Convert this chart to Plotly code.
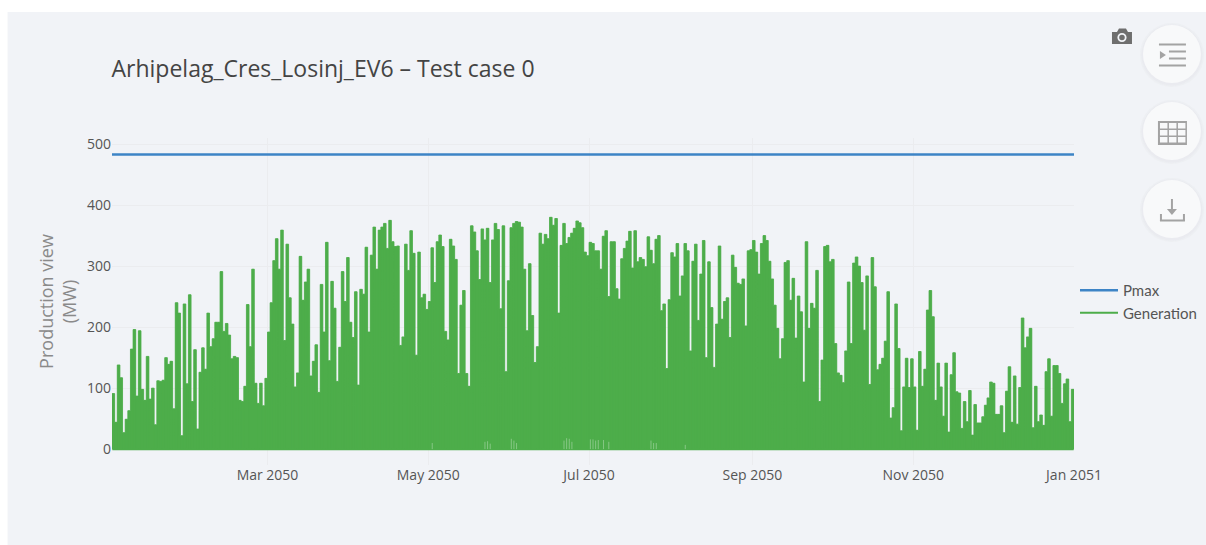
import pandas as pd
import plotly.graph_objects as go

TITLE = "Arhipelag_Cres_Losinj_EV6 – Test case 0"
START_DATE = "2050-01-01"
END_DATE = "2051-01-01"
PMAX = 483
TICK_DATES = ["2050-03-01", "2050-05-01", "2050-07-01", "2050-09-01", "2050-11-01", "2051-01-01"]
TICK_LABELS = ["Mar 2050", "May 2050", "Jul 2050", "Sep 2050", "Nov 2050", "Jan 2051"]

# Daily peak of generation (MW), Jan 1 onward
daily_peak = [
91,44,138,117,27,49,63,164,196,87,194,98,80,152,82,100,40,112,111,113,
150,139,144,66,240,223,22,238,107,253,78,163,33,126,166,131,223,168,181,208,
208,291,193,206,187,148,152,150,80,78,103,237,168,295,108,75,108,71,116,192,
240,309,345,295,359,178,336,248,205,102,125,316,244,274,295,120,144,171,93,270,
192,339,145,275,231,111,167,291,242,314,208,183,258,105,262,254,331,192,318,364,
295,359,364,370,329,375,340,332,333,170,184,336,293,358,321,154,323,248,254,229,
242,330,273,340,351,332,193,179,344,333,311,124,236,260,124,103,366,356,325,278,
361,343,362,273,343,370,360,230,366,127,276,363,370,373,372,364,295,194,304,219,
142,168,354,336,352,345,380,367,378,223,334,370,337,347,354,362,374,371,363,323,
317,339,337,325,325,295,349,358,250,340,340,263,246,312,329,341,357,297,358,307,
314,311,299,348,326,304,344,350,227,238,132,245,322,315,337,251,284,337,325,161,
308,336,211,287,342,150,307,232,134,205,333,213,242,248,183,318,298,272,270,279,
202,325,327,342,323,287,337,350,342,308,279,236,198,148,181,306,309,244,280,182,
251,225,110,340,198,239,231,293,78,146,332,334,307,311,173,125,121,109,161,274,
173,305,315,300,273,195,284,106,314,266,130,139,149,177,258,51,68,238,165,30,
102,149,101,148,102,31,160,103,131,228,260,217,80,141,102,54,141,28,122,158,
94,92,34,78,45,96,23,73,43,43,53,72,84,110,108,57,57,71,27,95,
135,44,120,41,101,215,166,184,198,35,103,45,56,39,127,148,54,137,137,124,
75,107,115,45,98,
]

# Faint light notches visible at the foot of the summer days: day of year index, height (MW)
notch_day = [121,141,142,143,151,152,153,171,172,173,174,181,182,183,184,186,188,204,205,206,217]
notch_height = [10,12,13,9,17,14,10,14,18,17,12,16,16,14,15,15,12,14,10,10,7]

days = pd.date_range(START_DATE, periods=len(daily_peak), freq="D")
step_x = list(days) + [pd.Timestamp(END_DATE)]
step_y = daily_peak + [daily_peak[-1]]
spike_x, spike_y = [], []
for day, peak in zip(days, daily_peak):
    noon = day + pd.Timedelta(hours=12)
    spike_x += [noon, noon, noon]
    spike_y += [0, peak, 0]
notch_x, notch_y = [], []
for i, h in zip(notch_day, notch_height):
    t = days[i] + pd.Timedelta(hours=12)
    notch_x += [t, t, None]
    notch_y += [0, h, None]

W, H = 1206, 545
L, R, T, B = 111.5, 1074, 138, 465
px = lambda v: (v - L) / (R - L)
py = lambda v: (B - v) / (B - T)

GREEN = "#4dad4a"
BLUE = "#3d84c6"
ICON = "#a3a3a3"
PANEL = "#f1f3f7"
BTN = "#f8f9fa"


def rect(x0, y0, x1, y1, fill, layer="above"):
    return dict(type="rect", xref="paper", yref="paper", x0=px(x0), x1=px(x1), y0=py(y1), y1=py(y0),
                fillcolor=fill, line=dict(width=0), layer=layer)


def circle(cx, cy, r, fill, opacity=1):
    return dict(type="circle", xref="paper", yref="paper", x0=px(cx - r), x1=px(cx + r), y0=py(cy + r), y1=py(cy - r),
                fillcolor=fill, opacity=opacity, line=dict(width=0), layer="above")


def path(points, fill):
    d = "M " + " L ".join(f"{px(a):.5f} {py(b):.5f}" for a, b in points) + " Z"
    return dict(type="path", xref="paper", yref="paper", path=d, fillcolor=fill, line=dict(width=0), layer="above")


shapes = [rect(7, 12, 1206, 545, PANEL, layer="below")]
for cy in (54, 131, 209):
    shapes += [circle(1172, cy + 1, 32, "#e8eaee", 0.45), circle(1172, cy + 1, 30.5, "#e8eaee", 0.7), circle(1172, cy, 29, BTN)]
# list icon
shapes += [rect(1159, 43.5, 1186, 45.5, ICON), rect(1159, 64.5, 1186, 66.5, ICON),
           rect(1169, 50.5, 1186, 52.5, ICON), rect(1169, 57.5, 1186, 59.5, ICON),
           path([(1160, 51), (1166, 55), (1160, 59)], ICON)]
# table icon
shapes += [rect(1158, 121, 1187, 145, ICON)]
for i in range(3):
    for j in range(3):
        shapes.append(rect(1160 + i * 9, 123 + j * 7, 1167.5 + i * 9, 128.5 + j * 7, BTN))
# download icon
shapes += [rect(1171, 199, 1173, 211, ICON), path([(1167, 209), (1177, 209), (1172, 215)], ICON),
           rect(1160, 219.5, 1185, 221.5, ICON), rect(1160, 214, 1162, 221, ICON), rect(1183, 214, 1185, 221, ICON)]
# camera icon
shapes += [path([(1112, 32), (1117, 32), (1119, 28.5), (1126, 28.5), (1128, 32), (1132, 32), (1132, 44), (1112, 44)], "#6e6e6e"),
           circle(1122, 37.5, 4.6, PANEL), circle(1122, 37.5, 2.8, "#6e6e6e")]

fig = go.Figure()
fig.add_trace(go.Scatter(x=[START_DATE, END_DATE], y=[PMAX, PMAX], name="Pmax", mode="lines",
                         line=dict(color=BLUE, width=2.5)))
fig.add_trace(go.Scatter(x=step_x, y=step_y, mode="lines", showlegend=False, hoverinfo="skip",
                         line=dict(width=0.8, shape="hv", color=GREEN), fill="tozeroy", fillcolor=GREEN))
fig.add_trace(go.Scatter(x=spike_x, y=spike_y, name="Generation", mode="lines",
                         line=dict(color=GREEN, width=2, simplify=False)))
fig.add_trace(go.Scatter(x=notch_x, y=notch_y, mode="lines", showlegend=False, hoverinfo="skip",
                         line=dict(color="#86c784", width=1)))

fig.update_layout(
    width=W, height=H,
    margin=dict(l=L, r=W - R, t=T, b=H - B, pad=0, autoexpand=False),
    paper_bgcolor="#ffffff", plot_bgcolor="rgba(0,0,0,0)",
    font=dict(family="Open Sans", size=14, color="#555555"),
    title=dict(text=TITLE, x=L / W, xanchor="left", y=1 - 69 / H, yanchor="middle",
               font=dict(family="Open Sans", size=23, color="#444444")),
    xaxis=dict(range=[START_DATE, END_DATE], tickvals=TICK_DATES, ticktext=TICK_LABELS,
               gridcolor="#ebecef", gridwidth=1, zeroline=False, showline=False, ticks="",
               tickfont=dict(size=14, color="#555555")),
    yaxis=dict(range=[-26, 510], tickvals=[0, 100, 200, 300, 400, 500],
               gridcolor="#ebecef", gridwidth=1, zeroline=False, showline=False, ticks="",
               tickfont=dict(size=14, color="#555555"),
               title=dict(text="Production view<br>(MW)", font=dict(size=18, color="#8a8a8a"), standoff=5)),
    legend=dict(x=(1075 - L) / (R - L), y=py(274), xanchor="left", yanchor="top", bgcolor="rgba(0,0,0,0)",
                font=dict(family="Lato", size=15, color="#555555"), itemwidth=38, tracegroupgap=0),
    shapes=shapes,
)
fig.write_html("out.html", config=dict(displayModeBar=False),
               post_script="document.body.style.margin='0';document.body.style.overflow='hidden';")
